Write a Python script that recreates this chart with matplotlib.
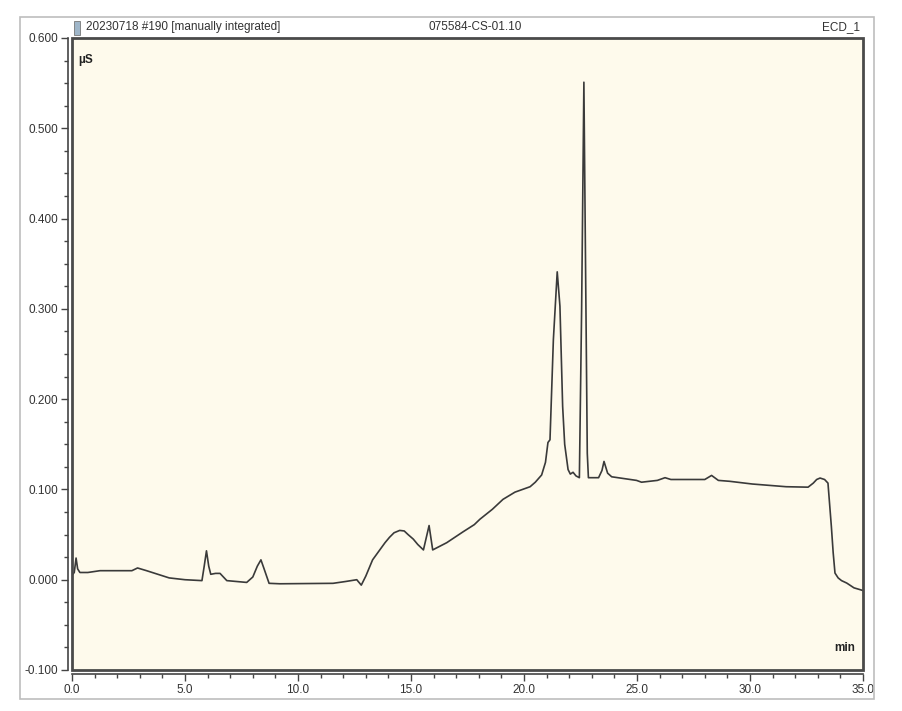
import matplotlib.pyplot as plt
from matplotlib.patches import Rectangle
from matplotlib.ticker import MultipleLocator, FormatStrFormatter

plt.rcParams["font.family"] = ["Liberation Sans", "DejaVu Sans"]

# chromatogram trace (min, µS)
time_min = [
    0.0, 0.1, 0.18, 0.25, 0.35, 0.7, 1.24, 2.65, 2.9, 3.3, 4.3, 5.0, 5.75,
    5.85, 5.95, 6.05, 6.14, 6.35, 6.55, 6.85, 7.73, 8.0, 8.2, 8.36, 8.5, 8.72,
    9.2, 11.55, 12.1, 12.6, 12.8, 13.0, 13.3, 13.85, 14.05, 14.25, 14.5,
    14.7, 14.87, 15.1, 15.3, 15.55, 15.8, 15.96, 16.58, 17.3, 17.8, 18.05,
    18.6, 19.07, 19.6, 20.27, 20.5, 20.78, 20.95, 21.06, 21.15, 21.3, 21.47,
    21.59, 21.71, 21.8, 21.95, 22.05, 22.17, 22.3, 22.45, 22.55, 22.65, 22.73,
    22.8, 22.85, 23.3, 23.45, 23.54, 23.7, 23.88, 24.98, 25.2, 25.9, 26.24,
    26.5, 28.0, 28.3, 28.6, 29.1, 30.1, 31.6, 32.57, 32.8, 32.95, 33.1, 33.3,
    33.45, 33.6, 33.68, 33.76, 33.9, 34.05, 34.28, 34.6, 34.87, 35.0,
]
signal_us = [
    0.005, 0.008, 0.024, 0.012, 0.008, 0.008, 0.010, 0.010, 0.013, 0.010,
    0.002, 0.000, -0.001, 0.015, 0.032, 0.015, 0.006, 0.007, 0.007, -0.001,
    -0.003, 0.003, 0.015, 0.022, 0.012, -0.004, -0.0045, -0.004, -0.002, 0.0,
    -0.006, 0.004, 0.022, 0.041, 0.047, 0.052, 0.0546, 0.054, 0.050, 0.045,
    0.039, 0.033, 0.060, 0.033, 0.041, 0.053, 0.061, 0.067, 0.078, 0.089,
    0.097, 0.103, 0.108, 0.116, 0.130, 0.152, 0.155, 0.266, 0.341, 0.303,
    0.192, 0.150, 0.122, 0.117, 0.119, 0.115, 0.113, 0.30, 0.551, 0.33, 0.14,
    0.113, 0.113, 0.121, 0.131, 0.118, 0.114, 0.110, 0.108, 0.110, 0.113,
    0.111, 0.111, 0.1155, 0.110, 0.109, 0.106, 0.103, 0.1025, 0.107, 0.111,
    0.1126, 0.111, 0.107, 0.059, 0.030, 0.0074, 0.002, -0.001, -0.0037,
    -0.009, -0.011, -0.012,
]

header_left = "20230718 #190 [manually integrated]"
header_mid = "075584-CS-01.10"
header_right = "ECD_1"

W, H = 903, 711
fig = plt.figure(figsize=(W / 100, H / 100), dpi=100)

# outer frame
fig.patches.append(Rectangle((20 / W, 1 - 699 / H), 854 / W, 682 / H,
                             transform=fig.transFigure, fill=False,
                             edgecolor="#bdbdbd", linewidth=1.2))

ax = fig.add_axes([72 / W, 1 - 670 / H, 791 / W, 632 / H])
ax.set_facecolor("#FEFAEC")

ax.plot(time_min, signal_us, color="#3a3a3a", linewidth=1.2)

ax.set_xlim(0, 35)
ax.set_ylim(-0.1, 0.6)

ax.xaxis.set_major_locator(MultipleLocator(5))
ax.xaxis.set_minor_locator(MultipleLocator(1))
ax.yaxis.set_major_locator(MultipleLocator(0.1))
ax.yaxis.set_minor_locator(MultipleLocator(0.025))
ax.xaxis.set_major_formatter(FormatStrFormatter("%.1f"))
ax.yaxis.set_major_formatter(FormatStrFormatter("%.3f"))

ax.tick_params(axis="both", which="major", length=5, width=1, color="#444444",
               labelsize=8.5, labelcolor="#333333", pad=2)
ax.tick_params(axis="both", which="minor", length=3, width=1, color="#444444")

for side in ["top", "right"]:
    ax.spines[side].set_visible(False)
for side in ["left", "bottom"]:
    ax.spines[side].set_position(("outward", 3))
    ax.spines[side].set_color("#444444")
    ax.spines[side].set_linewidth(1.2)

# plot area border
ax.add_patch(Rectangle((0, 0), 1, 1, transform=ax.transAxes, fill=False,
                       edgecolor="#4a4a4a", linewidth=2, clip_on=False, zorder=5))

ax.text(0.008, 0.975, "µS", transform=ax.transAxes, fontsize=8.5,
        fontweight="bold", color="#222222", va="top", ha="left")
ax.text(0.99, 0.025, "min", transform=ax.transAxes, fontsize=8.5,
        fontweight="bold", color="#222222", va="bottom", ha="right")

# header strip
y_head = 1 - 27 / H
fig.patches.append(Rectangle((74 / W, 1 - 35 / H), 6 / W, 14 / H,
                             transform=fig.transFigure, facecolor="#9fb6c9",
                             edgecolor="#777777", linewidth=0.6))
fig.text(86 / W, y_head, header_left, fontsize=8.5, color="#333333",
         va="center", ha="left")
fig.text(475 / W, y_head, header_mid, fontsize=8.5, color="#333333",
         va="center", ha="center")
fig.text(860 / W, y_head, header_right, fontsize=8.5, color="#333333",
         va="center", ha="right")

fig.savefig("out.png", dpi=100, facecolor="white")
